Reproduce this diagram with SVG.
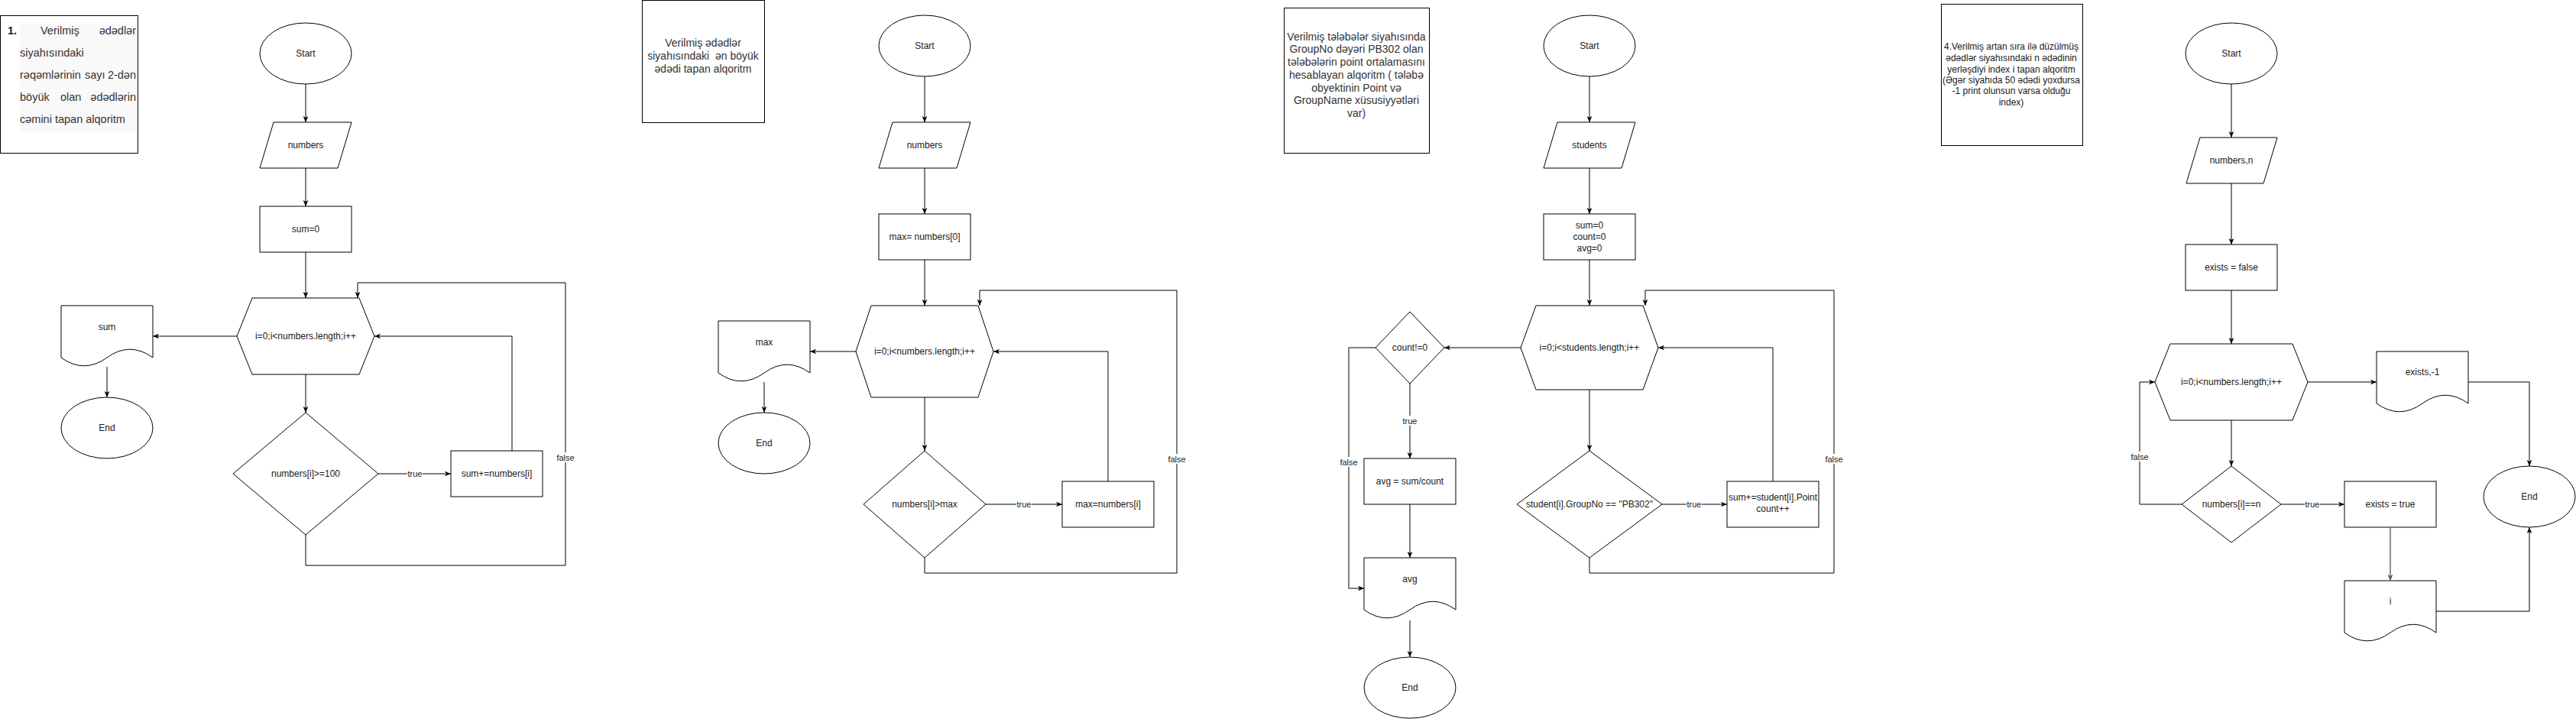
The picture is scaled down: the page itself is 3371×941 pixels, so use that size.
<svg xmlns="http://www.w3.org/2000/svg" width="3371" height="941" viewBox="0 0 3371 941">
<style>
.s{fill:#fff;stroke:#000;stroke-width:1}
.t{font-family:"Liberation Sans",Arial,sans-serif;font-size:12px;fill:#1a1a1a;text-anchor:middle}
.lb{font-family:"Liberation Sans",Arial,sans-serif;font-size:11px;fill:#1a1a1a;text-anchor:middle}
.lbg{fill:#fff;stroke:none}
.c{fill:none;stroke:#000;stroke-width:1}
.g{fill:none;stroke:#555;stroke-width:1.3}
.note{font-family:"Liberation Sans",Arial,sans-serif;fill:#333}
</style>
<defs>
<marker id="a" viewBox="0 0 10 10" refX="10" refY="5" markerWidth="8" markerHeight="8" markerUnits="userSpaceOnUse" orient="auto">
<path d="M0,0.8 L10,5 L0,9.2 L2.6,5 Z" fill="#000"/>
</marker>
<marker id="ag" viewBox="0 0 10 10" refX="10" refY="5" markerWidth="8" markerHeight="8" markerUnits="userSpaceOnUse" orient="auto">
<path d="M0,0.8 L10,5 L0,9.2 L2.6,5 Z" fill="#555"/>
</marker>
</defs>
<rect width="3371" height="941" fill="#fff"/>

<!-- ===== Chart 1 ===== -->
<g id="note1">
<rect class="s" x="0.5" y="20.5" width="180" height="180"/>
<rect x="26" y="30" width="152" height="143" fill="#f9f9f9"/>
<g class="note" font-size="14.5px">
<text x="10" y="45" font-weight="bold" fill="#222">1.</text>
<text x="53" y="45">Verilmiş</text>
<text x="178" y="45" text-anchor="end">ədədlər</text>
<text x="26" y="74">siyahısındaki</text>
<text x="26" y="103">rəqəmlərinin</text>
<text x="111" y="103">sayı</text>
<text x="178" y="103" text-anchor="end">2-dən</text>
<text x="26" y="132">böyük</text>
<text x="79" y="132">olan</text>
<text x="178" y="132" text-anchor="end">ədədlərin</text>
<text x="26" y="161">cəmini tapan alqoritm</text>
</g>
</g>
<g id="start1"><ellipse class="s" cx="400" cy="70" rx="60" ry="40"/><text class="t" x="400" y="74">Start</text></g>
<g id="in1"><polygon class="s" points="358,160 460,160 442,220 340,220"/><text class="t" x="400" y="194">numbers</text></g>
<g id="init1"><rect class="s" x="340" y="270" width="120" height="60"/><text class="t" x="400" y="304">sum=0</text></g>
<g id="loop1"><polygon class="s" points="330,390 470,390 490,440 470,490 330,490 310,440"/><text class="t" x="400" y="444">i=0;i&lt;numbers.length;i++</text></g>
<g id="out1"><path class="s" d="M80,400 L200,400 L200,468 Q170,446.4 140,468 T80,468 Z"/><text class="t" x="140" y="432">sum</text></g>
<g id="end1"><ellipse class="s" cx="140" cy="560" rx="60" ry="40"/><text class="t" x="140" y="564">End</text></g>
<g id="cond1"><polygon class="s" points="400,540 495,620 400,700 305,620"/><text class="t" x="400" y="624">numbers[i]&gt;=100</text></g>
<g id="add1"><rect class="s" x="590" y="590" width="120" height="60"/><text class="t" x="650" y="624">sum+=numbers[i]</text></g>

<!-- ===== Chart 2 ===== -->
<g id="note2">
<rect class="s" x="840.5" y="0.5" width="160" height="160"/>
<g class="note" font-size="14px" text-anchor="middle">
<text x="920" y="61">Verilmiş ədədlər</text>
<text x="920" y="78">siyahısındaki&#160; ən böyük</text>
<text x="920" y="95">ədədi tapan alqoritm</text>
</g>
</g>
<g id="start2"><ellipse class="s" cx="1210" cy="60" rx="60" ry="40"/><text class="t" x="1210" y="64">Start</text></g>
<g id="in2"><polygon class="s" points="1168,160 1270,160 1252,220 1150,220"/><text class="t" x="1210" y="194">numbers</text></g>
<g id="init2"><rect class="s" x="1150" y="280" width="120" height="60"/><text class="t" x="1210" y="314">max= numbers[0]</text></g>
<g id="loop2"><polygon class="s" points="1140,400 1280,400 1300,460 1280,520 1140,520 1120,460"/><text class="t" x="1210" y="464">i=0;i&lt;numbers.length;i++</text></g>
<g id="out2"><path class="s" d="M940,420 L1060,420 L1060,488 Q1030,466.4 1000,488 T940,488 Z"/><text class="t" x="1000" y="452">max</text></g>
<g id="end2"><ellipse class="s" cx="1000" cy="580" rx="60" ry="40"/><text class="t" x="1000" y="584">End</text></g>
<g id="cond2"><polygon class="s" points="1210,590 1290,660 1210,730 1130,660"/><text class="t" x="1210" y="664">numbers[i]&gt;max</text></g>
<g id="set2"><rect class="s" x="1390" y="630" width="120" height="60"/><text class="t" x="1450" y="664">max=numbers[i]</text></g>

<!-- ===== Chart 3 ===== -->
<g id="note3">
<rect class="s" x="1680.5" y="10.5" width="190" height="190"/>
<g class="note" font-size="14px" text-anchor="middle">
<text x="1775" y="53">Verilmiş tələbələr siyahısında</text>
<text x="1775" y="69">GroupNo dəyəri PB302 olan</text>
<text x="1775" y="86">tələbələrin point ortalamasını</text>
<text x="1775" y="103">hesablayan alqoritm ( tələbə</text>
<text x="1775" y="120">obyektinin Point və</text>
<text x="1775" y="136">GroupName xüsusiyyətləri</text>
<text x="1775" y="153">var)</text>
</g>
</g>
<g id="start3"><ellipse class="s" cx="2080" cy="60" rx="60" ry="40"/><text class="t" x="2080" y="64">Start</text></g>
<g id="in3"><polygon class="s" points="2038,160 2140,160 2122,220 2020,220"/><text class="t" x="2080" y="194">students</text></g>
<g id="init3"><rect class="s" x="2020" y="280" width="120" height="60"/><text class="t" x="2080" y="299">sum=0</text><text class="t" x="2080" y="314">count=0</text><text class="t" x="2080" y="329">avg=0</text></g>
<g id="loop3"><polygon class="s" points="2010,400 2150,400 2170,455 2150,510 2010,510 1990,455"/><text class="t" x="2080" y="459">i=0;i&lt;students.length;i++</text></g>
<g id="cnt3"><polygon class="s" points="1845,408 1890,455 1845,502 1800,455"/><text class="t" x="1845" y="459">count!=0</text></g>
<g id="avg3"><rect class="s" x="1785" y="600" width="120" height="60"/><text class="t" x="1845" y="634">avg = sum/count</text></g>
<g id="out3"><path class="s" d="M1785,730 L1905,730 L1905,798 Q1875,776.4 1845,798 T1785,798 Z"/><text class="t" x="1845" y="762">avg</text></g>
<g id="end3"><ellipse class="s" cx="1845" cy="900" rx="60" ry="40"/><text class="t" x="1845" y="904">End</text></g>
<g id="cond3"><polygon class="s" points="2080,590 2175,660 2080,730 1985,660"/><text class="t" x="2080" y="664">student[i].GroupNo == "PB302"</text></g>
<g id="add3"><rect class="s" x="2260" y="630" width="120" height="60"/><text class="t" x="2320" y="655">sum+=student[i].Point</text><text class="t" x="2320" y="670">count++</text></g>

<!-- ===== Chart 4 ===== -->
<g id="note4">
<rect class="s" x="2540.5" y="5.5" width="185" height="185"/>
<g font-family="Liberation Sans, Arial, sans-serif" font-size="12px" fill="#1a1a1a" text-anchor="middle">
<text x="2632" y="65">4.Verilmiş artan sıra ilə düzülmüş</text>
<text x="2632" y="80">ədədlər siyahısındaki n ədədinin</text>
<text x="2632" y="95">yerləşdiyi index i tapan alqoritm</text>
<text x="2632" y="109">(Əgər siyahıda 50 ədədi yoxdursa</text>
<text x="2632" y="123">-1 print olunsun varsa olduğu</text>
<text x="2632" y="138">index)</text>
</g>
</g>
<g id="start4"><ellipse class="s" cx="2920" cy="70" rx="60" ry="40"/><text class="t" x="2920" y="74">Start</text></g>
<g id="in4"><polygon class="s" points="2879,180 2980,180 2962,240 2861,240"/><text class="t" x="2920" y="214">numbers,n</text></g>
<g id="init4"><rect class="s" x="2860" y="320" width="120" height="60"/><text class="t" x="2920" y="354">exists = false</text></g>
<g id="loop4"><polygon class="s" points="2840,450 3000,450 3020,500 3000,550 2840,550 2820,500"/><text class="t" x="2920" y="504">i=0;i&lt;numbers.length;i++</text></g>
<g id="outneg4"><path class="s" d="M3110,460 L3230,460 L3230,528 Q3200,506.4 3170,528 T3110,528 Z"/><text class="t" x="3170" y="491">exists,-1</text></g>
<g id="end4"><ellipse class="s" cx="3310" cy="650" rx="60" ry="40"/><text class="t" x="3310" y="654">End</text></g>
<g id="cond4"><polygon class="s" points="2920,610 2985,660 2920,710 2855,660"/><text class="t" x="2920" y="664">numbers[i]==n</text></g>
<g id="set4"><rect class="s" x="3068" y="630" width="120" height="60"/><text class="t" x="3128" y="664">exists = true</text></g>
<g id="outi4"><path class="s" d="M3068,760 L3188,760 L3188,828 Q3158,806.4 3128,828 T3068,828 Z"/><text class="t" x="3128" y="791" fill="#777">i</text></g>

<!-- ===== Connectors ===== -->
<g id="connectors">
<path class="c" marker-end="url(#a)" d="M400,110 V160"/>
<path class="c" marker-end="url(#a)" d="M400,220 V270"/>
<path class="c" marker-end="url(#a)" d="M400,330 V390"/>
<path class="c" marker-end="url(#a)" d="M310,440 H200"/>
<path class="c" marker-end="url(#a)" d="M140,480 V520"/>
<path class="c" marker-end="url(#a)" d="M400,490 V540"/>
<path class="c" marker-end="url(#a)" d="M495,620 H590"/>
<path class="c" marker-end="url(#a)" d="M670,590 V440 H490"/>
<path class="c" marker-end="url(#a)" d="M400,700 V740 H740 V370 H468 V390"/>

<path class="c" marker-end="url(#a)" d="M1210,100 V160"/>
<path class="c" marker-end="url(#a)" d="M1210,220 V280"/>
<path class="c" marker-end="url(#a)" d="M1210,340 V400"/>
<path class="c" marker-end="url(#a)" d="M1120,460 H1060"/>
<path class="c" marker-end="url(#a)" d="M1000,500 V540"/>
<path class="c" marker-end="url(#a)" d="M1210,520 V590"/>
<path class="c" marker-end="url(#a)" d="M1290,660 H1390"/>
<path class="c" marker-end="url(#a)" d="M1450,630 V460 H1300"/>
<path class="c" marker-end="url(#a)" d="M1210,730 V750 H1540 V380 H1282 V400"/>

<path class="c" marker-end="url(#a)" d="M2080,100 V160"/>
<path class="c" marker-end="url(#a)" d="M2080,220 V280"/>
<path class="c" marker-end="url(#a)" d="M2080,340 V400"/>
<path class="c" marker-end="url(#a)" d="M1990,455 H1890"/>
<path class="c" marker-end="url(#a)" d="M1845,502 V600"/>
<path class="c" marker-end="url(#a)" d="M1845,660 V730"/>
<path class="c" marker-end="url(#a)" d="M1845,812 V860"/>
<path class="c" marker-end="url(#a)" d="M1800,455 H1765 V770 H1785"/>
<path class="c" marker-end="url(#a)" d="M2080,510 V590"/>
<path class="c" marker-end="url(#a)" d="M2175,660 H2260"/>
<path class="c" marker-end="url(#a)" d="M2320,630 V455 H2170"/>
<path class="c" marker-end="url(#a)" d="M2080,730 V750 H2400 V380 H2153 V400"/>

<path class="c" marker-end="url(#a)" d="M2920,110 V180"/>
<path class="c" marker-end="url(#a)" d="M2920,240 V320"/>
<path class="c" marker-end="url(#a)" d="M2920,380 V450"/>
<path class="c" marker-end="url(#a)" d="M3020,500 H3110"/>
<path class="c" marker-end="url(#a)" d="M3230,500 H3310 V610"/>
<path class="c" marker-end="url(#a)" d="M2920,550 V610"/>
<path class="c" marker-end="url(#a)" d="M2855,660 H2800 V500 H2820"/>
<path class="c" marker-end="url(#a)" d="M2985,660 H3068"/>
<path class="g" marker-end="url(#ag)" d="M3128,690 V760"/>
<path class="c" marker-end="url(#a)" d="M3188,800 H3310 V690"/>

<g id="labels">
<rect class="lbg" x="533" y="613" width="20" height="13"/><text class="lb" x="543" y="624">true</text>
<rect class="lbg" x="728" y="592" width="24" height="13"/><text class="lb" x="740" y="603">false</text>
<rect class="lbg" x="1330" y="653" width="20" height="13"/><text class="lb" x="1340" y="664">true</text>
<rect class="lbg" x="1528" y="594" width="24" height="13"/><text class="lb" x="1540" y="605">false</text>
<rect class="lbg" x="1835" y="544" width="20" height="13"/><text class="lb" x="1845" y="555">true</text>
<rect class="lbg" x="1753" y="598" width="24" height="13"/><text class="lb" x="1765" y="609">false</text>
<rect class="lbg" x="2207" y="653" width="20" height="13"/><text class="lb" x="2217" y="664">true</text>
<rect class="lbg" x="2388" y="594" width="24" height="13"/><text class="lb" x="2400" y="605">false</text>
<rect class="lbg" x="3016" y="653" width="20" height="13"/><text class="lb" x="3026" y="664">true</text>
<rect class="lbg" x="2788" y="591" width="24" height="13"/><text class="lb" x="2800" y="602">false</text>
</g>
</g>
</svg>
